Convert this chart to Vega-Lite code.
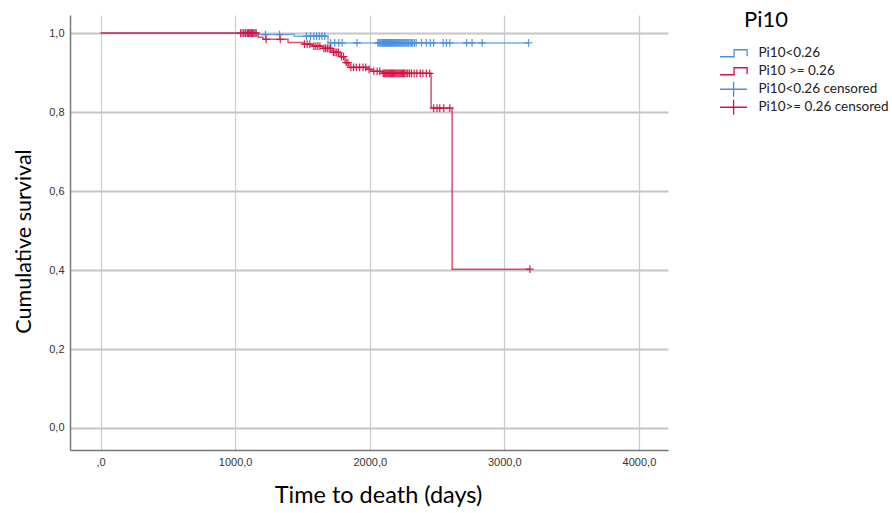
{
  "$schema": "https://vega.github.io/schema/vega-lite/v6.json",
  "autosize": "none",
  "width": 598,
  "height": 435,
  "padding": {"left": 70, "top": 15, "right": 224, "bottom": 63},
  "background": "white",
  "config": {
    "view": {"stroke": null},
    "axis": {
      "labelFont": "Liberation Sans", "labelFontSize": 11, "labelColor": "#333",
      "titleFont": "Lato", "titleFontSize": 23.5, "titleFontWeight": "normal", "titleColor": "#000",
      "domainColor": "#777", "domainWidth": 1.5, "ticks": false, "labelPadding": 6
    },
    "axisX": {"gridColor": "#cccccc", "gridWidth": 1.2},
    "axisY": {"gridColor": "#c6c6c6", "gridWidth": 1.8, "titleFontSize": 21.5}
  },
  "datasets": {
    "curves": [
      {"series": "Pi10<0.26", "t": 0, "s": 1},
      {"series": "Pi10<0.26", "t": 1170, "s": 0.996},
      {"series": "Pi10<0.26", "t": 1440, "s": 0.992},
      {"series": "Pi10<0.26", "t": 1690, "s": 0.975},
      {"series": "Pi10<0.26", "t": 3180, "s": 0.975},
      {"series": "Pi10 >= 0.26", "t": 0, "s": 1},
      {"series": "Pi10 >= 0.26", "t": 1170, "s": 0.989},
      {"series": "Pi10 >= 0.26", "t": 1207, "s": 0.984},
      {"series": "Pi10 >= 0.26", "t": 1393, "s": 0.976},
      {"series": "Pi10 >= 0.26", "t": 1504, "s": 0.972},
      {"series": "Pi10 >= 0.26", "t": 1571, "s": 0.967},
      {"series": "Pi10 >= 0.26", "t": 1647, "s": 0.961},
      {"series": "Pi10 >= 0.26", "t": 1720, "s": 0.951},
      {"series": "Pi10 >= 0.26", "t": 1780, "s": 0.94},
      {"series": "Pi10 >= 0.26", "t": 1816, "s": 0.925},
      {"series": "Pi10 >= 0.26", "t": 1846, "s": 0.913},
      {"series": "Pi10 >= 0.26", "t": 1980, "s": 0.908},
      {"series": "Pi10 >= 0.26", "t": 2010, "s": 0.903},
      {"series": "Pi10 >= 0.26", "t": 2091, "s": 0.898},
      {"series": "Pi10 >= 0.26", "t": 2456, "s": 0.81},
      {"series": "Pi10 >= 0.26", "t": 2612, "s": 0.402},
      {"series": "Pi10 >= 0.26", "t": 3190, "s": 0.402}
    ],
    "censored": [
      {"series": "Pi10<0.26 censored", "t": 1050, "s": 1},
      {"series": "Pi10<0.26 censored", "t": 1065, "s": 1},
      {"series": "Pi10<0.26 censored", "t": 1080, "s": 1},
      {"series": "Pi10<0.26 censored", "t": 1095, "s": 1},
      {"series": "Pi10<0.26 censored", "t": 1110, "s": 1},
      {"series": "Pi10<0.26 censored", "t": 1125, "s": 1},
      {"series": "Pi10<0.26 censored", "t": 1140, "s": 1},
      {"series": "Pi10<0.26 censored", "t": 1155, "s": 1},
      {"series": "Pi10<0.26 censored", "t": 1225, "s": 0.996},
      {"series": "Pi10<0.26 censored", "t": 1330, "s": 0.996},
      {"series": "Pi10<0.26 censored", "t": 1530, "s": 0.992},
      {"series": "Pi10<0.26 censored", "t": 1560, "s": 0.992},
      {"series": "Pi10<0.26 censored", "t": 1585, "s": 0.992},
      {"series": "Pi10<0.26 censored", "t": 1605, "s": 0.992},
      {"series": "Pi10<0.26 censored", "t": 1625, "s": 0.992},
      {"series": "Pi10<0.26 censored", "t": 1645, "s": 0.992},
      {"series": "Pi10<0.26 censored", "t": 1665, "s": 0.992},
      {"series": "Pi10<0.26 censored", "t": 1710, "s": 0.975},
      {"series": "Pi10<0.26 censored", "t": 1740, "s": 0.975},
      {"series": "Pi10<0.26 censored", "t": 1770, "s": 0.975},
      {"series": "Pi10<0.26 censored", "t": 1795, "s": 0.975},
      {"series": "Pi10<0.26 censored", "t": 1905, "s": 0.975},
      {"series": "Pi10<0.26 censored", "t": 2060, "s": 0.975},
      {"series": "Pi10<0.26 censored", "t": 2068, "s": 0.975},
      {"series": "Pi10<0.26 censored", "t": 2075, "s": 0.975},
      {"series": "Pi10<0.26 censored", "t": 2082, "s": 0.975},
      {"series": "Pi10<0.26 censored", "t": 2090, "s": 0.975},
      {"series": "Pi10<0.26 censored", "t": 2096, "s": 0.975},
      {"series": "Pi10<0.26 censored", "t": 2103, "s": 0.975},
      {"series": "Pi10<0.26 censored", "t": 2110, "s": 0.975},
      {"series": "Pi10<0.26 censored", "t": 2118, "s": 0.975},
      {"series": "Pi10<0.26 censored", "t": 2125, "s": 0.975},
      {"series": "Pi10<0.26 censored", "t": 2133, "s": 0.975},
      {"series": "Pi10<0.26 censored", "t": 2140, "s": 0.975},
      {"series": "Pi10<0.26 censored", "t": 2147, "s": 0.975},
      {"series": "Pi10<0.26 censored", "t": 2155, "s": 0.975},
      {"series": "Pi10<0.26 censored", "t": 2162, "s": 0.975},
      {"series": "Pi10<0.26 censored", "t": 2170, "s": 0.975},
      {"series": "Pi10<0.26 censored", "t": 2178, "s": 0.975},
      {"series": "Pi10<0.26 censored", "t": 2185, "s": 0.975},
      {"series": "Pi10<0.26 censored", "t": 2193, "s": 0.975},
      {"series": "Pi10<0.26 censored", "t": 2200, "s": 0.975},
      {"series": "Pi10<0.26 censored", "t": 2208, "s": 0.975},
      {"series": "Pi10<0.26 censored", "t": 2215, "s": 0.975},
      {"series": "Pi10<0.26 censored", "t": 2223, "s": 0.975},
      {"series": "Pi10<0.26 censored", "t": 2230, "s": 0.975},
      {"series": "Pi10<0.26 censored", "t": 2238, "s": 0.975},
      {"series": "Pi10<0.26 censored", "t": 2245, "s": 0.975},
      {"series": "Pi10<0.26 censored", "t": 2253, "s": 0.975},
      {"series": "Pi10<0.26 censored", "t": 2260, "s": 0.975},
      {"series": "Pi10<0.26 censored", "t": 2268, "s": 0.975},
      {"series": "Pi10<0.26 censored", "t": 2275, "s": 0.975},
      {"series": "Pi10<0.26 censored", "t": 2283, "s": 0.975},
      {"series": "Pi10<0.26 censored", "t": 2290, "s": 0.975},
      {"series": "Pi10<0.26 censored", "t": 2300, "s": 0.975},
      {"series": "Pi10<0.26 censored", "t": 2310, "s": 0.975},
      {"series": "Pi10<0.26 censored", "t": 2320, "s": 0.975},
      {"series": "Pi10<0.26 censored", "t": 2332, "s": 0.975},
      {"series": "Pi10<0.26 censored", "t": 2345, "s": 0.975},
      {"series": "Pi10<0.26 censored", "t": 2385, "s": 0.975},
      {"series": "Pi10<0.26 censored", "t": 2420, "s": 0.975},
      {"series": "Pi10<0.26 censored", "t": 2450, "s": 0.975},
      {"series": "Pi10<0.26 censored", "t": 2475, "s": 0.975},
      {"series": "Pi10<0.26 censored", "t": 2545, "s": 0.975},
      {"series": "Pi10<0.26 censored", "t": 2570, "s": 0.975},
      {"series": "Pi10<0.26 censored", "t": 2595, "s": 0.975},
      {"series": "Pi10<0.26 censored", "t": 2720, "s": 0.975},
      {"series": "Pi10<0.26 censored", "t": 2760, "s": 0.975},
      {"series": "Pi10<0.26 censored", "t": 2835, "s": 0.975},
      {"series": "Pi10<0.26 censored", "t": 3180, "s": 0.975},
      {"series": "Pi10>= 0.26 censored", "t": 1040, "s": 1},
      {"series": "Pi10>= 0.26 censored", "t": 1060, "s": 1},
      {"series": "Pi10>= 0.26 censored", "t": 1075, "s": 1},
      {"series": "Pi10>= 0.26 censored", "t": 1090, "s": 1},
      {"series": "Pi10>= 0.26 censored", "t": 1100, "s": 1},
      {"series": "Pi10>= 0.26 censored", "t": 1110, "s": 1},
      {"series": "Pi10>= 0.26 censored", "t": 1120, "s": 1},
      {"series": "Pi10>= 0.26 censored", "t": 1130, "s": 1},
      {"series": "Pi10>= 0.26 censored", "t": 1140, "s": 1},
      {"series": "Pi10>= 0.26 censored", "t": 1155, "s": 1},
      {"series": "Pi10>= 0.26 censored", "t": 1230, "s": 0.984},
      {"series": "Pi10>= 0.26 censored", "t": 1335, "s": 0.984},
      {"series": "Pi10>= 0.26 censored", "t": 1515, "s": 0.972},
      {"series": "Pi10>= 0.26 censored", "t": 1535, "s": 0.972},
      {"series": "Pi10>= 0.26 censored", "t": 1555, "s": 0.972},
      {"series": "Pi10>= 0.26 censored", "t": 1585, "s": 0.967},
      {"series": "Pi10>= 0.26 censored", "t": 1600, "s": 0.967},
      {"series": "Pi10>= 0.26 censored", "t": 1615, "s": 0.967},
      {"series": "Pi10>= 0.26 censored", "t": 1630, "s": 0.967},
      {"series": "Pi10>= 0.26 censored", "t": 1660, "s": 0.961},
      {"series": "Pi10>= 0.26 censored", "t": 1672, "s": 0.961},
      {"series": "Pi10>= 0.26 censored", "t": 1685, "s": 0.961},
      {"series": "Pi10>= 0.26 censored", "t": 1698, "s": 0.961},
      {"series": "Pi10>= 0.26 censored", "t": 1710, "s": 0.961},
      {"series": "Pi10>= 0.26 censored", "t": 1730, "s": 0.951},
      {"series": "Pi10>= 0.26 censored", "t": 1742, "s": 0.951},
      {"series": "Pi10>= 0.26 censored", "t": 1755, "s": 0.951},
      {"series": "Pi10>= 0.26 censored", "t": 1768, "s": 0.951},
      {"series": "Pi10>= 0.26 censored", "t": 1790, "s": 0.94},
      {"series": "Pi10>= 0.26 censored", "t": 1805, "s": 0.94},
      {"series": "Pi10>= 0.26 censored", "t": 1825, "s": 0.925},
      {"series": "Pi10>= 0.26 censored", "t": 1838, "s": 0.925},
      {"series": "Pi10>= 0.26 censored", "t": 1860, "s": 0.913},
      {"series": "Pi10>= 0.26 censored", "t": 1880, "s": 0.913},
      {"series": "Pi10>= 0.26 censored", "t": 1900, "s": 0.913},
      {"series": "Pi10>= 0.26 censored", "t": 1925, "s": 0.913},
      {"series": "Pi10>= 0.26 censored", "t": 1950, "s": 0.913},
      {"series": "Pi10>= 0.26 censored", "t": 1970, "s": 0.913},
      {"series": "Pi10>= 0.26 censored", "t": 1995, "s": 0.908},
      {"series": "Pi10>= 0.26 censored", "t": 2030, "s": 0.903},
      {"series": "Pi10>= 0.26 censored", "t": 2055, "s": 0.903},
      {"series": "Pi10>= 0.26 censored", "t": 2075, "s": 0.903},
      {"series": "Pi10>= 0.26 censored", "t": 2100, "s": 0.898},
      {"series": "Pi10>= 0.26 censored", "t": 2107, "s": 0.898},
      {"series": "Pi10>= 0.26 censored", "t": 2114, "s": 0.898},
      {"series": "Pi10>= 0.26 censored", "t": 2121, "s": 0.898},
      {"series": "Pi10>= 0.26 censored", "t": 2128, "s": 0.898},
      {"series": "Pi10>= 0.26 censored", "t": 2135, "s": 0.898},
      {"series": "Pi10>= 0.26 censored", "t": 2142, "s": 0.898},
      {"series": "Pi10>= 0.26 censored", "t": 2149, "s": 0.898},
      {"series": "Pi10>= 0.26 censored", "t": 2156, "s": 0.898},
      {"series": "Pi10>= 0.26 censored", "t": 2163, "s": 0.898},
      {"series": "Pi10>= 0.26 censored", "t": 2170, "s": 0.898},
      {"series": "Pi10>= 0.26 censored", "t": 2178, "s": 0.898},
      {"series": "Pi10>= 0.26 censored", "t": 2186, "s": 0.898},
      {"series": "Pi10>= 0.26 censored", "t": 2194, "s": 0.898},
      {"series": "Pi10>= 0.26 censored", "t": 2202, "s": 0.898},
      {"series": "Pi10>= 0.26 censored", "t": 2210, "s": 0.898},
      {"series": "Pi10>= 0.26 censored", "t": 2218, "s": 0.898},
      {"series": "Pi10>= 0.26 censored", "t": 2226, "s": 0.898},
      {"series": "Pi10>= 0.26 censored", "t": 2234, "s": 0.898},
      {"series": "Pi10>= 0.26 censored", "t": 2242, "s": 0.898},
      {"series": "Pi10>= 0.26 censored", "t": 2250, "s": 0.898},
      {"series": "Pi10>= 0.26 censored", "t": 2260, "s": 0.898},
      {"series": "Pi10>= 0.26 censored", "t": 2270, "s": 0.898},
      {"series": "Pi10>= 0.26 censored", "t": 2282, "s": 0.898},
      {"series": "Pi10>= 0.26 censored", "t": 2295, "s": 0.898},
      {"series": "Pi10>= 0.26 censored", "t": 2310, "s": 0.898},
      {"series": "Pi10>= 0.26 censored", "t": 2330, "s": 0.898},
      {"series": "Pi10>= 0.26 censored", "t": 2350, "s": 0.898},
      {"series": "Pi10>= 0.26 censored", "t": 2375, "s": 0.898},
      {"series": "Pi10>= 0.26 censored", "t": 2395, "s": 0.898},
      {"series": "Pi10>= 0.26 censored", "t": 2420, "s": 0.898},
      {"series": "Pi10>= 0.26 censored", "t": 2445, "s": 0.898},
      {"series": "Pi10>= 0.26 censored", "t": 2475, "s": 0.81},
      {"series": "Pi10>= 0.26 censored", "t": 2500, "s": 0.81},
      {"series": "Pi10>= 0.26 censored", "t": 2520, "s": 0.81},
      {"series": "Pi10>= 0.26 censored", "t": 2550, "s": 0.81},
      {"series": "Pi10>= 0.26 censored", "t": 2595, "s": 0.81},
      {"series": "Pi10>= 0.26 censored", "t": 3190, "s": 0.402}
    ]
  },
  "encoding": {
    "x": {
      "field": "t", "type": "quantitative",
      "scale": {"domain": [-227, 4216], "nice": false, "zero": false},
      "axis": {
        "title": "Time to death (days)", "values": [0, 1000, 2000, 3000, 4000],
        "labelExpr": "datum.value == 0 ? ',0' : replace(format(datum.value, '.1f'), '.', ',')",
        "titlePadding": 16, "titleX": 308
      }
    },
    "y": {
      "field": "s", "type": "quantitative",
      "scale": {"domain": [-0.0557, 1.0456], "nice": false, "zero": false},
      "axis": {
        "title": "Cumulative survival", "values": [0, 0.2, 0.4, 0.6, 0.8, 1],
        "labelExpr": "replace(format(datum.value, '.1f'), '.', ',')",
        "titlePadding": 13, "titleY": 226
      }
    },
    "color": {
      "field": "series", "type": "nominal",
      "scale": {
        "domain": ["Pi10<0.26", "Pi10 >= 0.26", "Pi10<0.26 censored", "Pi10>= 0.26 censored"],
        "range": ["#4a8fe2", "#d8103f", "#4a8fe2", "#d8103f"]
      },
      "legend": {
        "orient": "none", "legendX": 645, "legendY": -5.5,
        "title": "Pi10", "titleFont": "Lato", "titleFontSize": 22, "titleFontWeight": "normal", "titleColor": "#000",
        "titlePadding": 15,
        "labelFont": "Lato", "labelFontSize": 13.5, "labelColor": "#222", "labelOffset": 30, "labelLimit": 300,
        "rowPadding": -4.5, "symbolSize": 100, "symbolStrokeWidth": 1.3, "symbolType": "M-0.33,0H5.07M2.37,-1.5V1.5",
        "encode": {
          "title": {"update": {"dx": {"value": 29}}},
          "symbols": {
            "update": {
              "shape": {"signal": "indexof(datum.value, 'censored') >= 0 ? 'M2.37,-1.6M2.37,1.6M-0.33,0H5.07M2.37,-1.5V1.5' : 'M2.37,-1.6M2.37,1.6M-0.33,0.7H2.47V-0.7H5.07V0.6'"},
              "size": {"value": 100},
              "fill": {"value": "transparent"},
              "stroke": {"scale": "color", "field": "value"},
              "strokeWidth": {"value": 1.3}
            }
          }
        }
      }
    }
  },
  "layer": [
    {
      "data": {"name": "curves"},
      "mark": {"type": "line", "interpolate": "step-after", "strokeWidth": 1.5, "strokeOpacity": 0.75}
    },
    {
      "data": {"name": "censored"},
      "mark": {"type": "point", "shape": "M-1,0H1M0,-1V1", "filled": false, "size": 60, "strokeWidth": 1.2, "opacity": 0.95}
    }
  ]
}
